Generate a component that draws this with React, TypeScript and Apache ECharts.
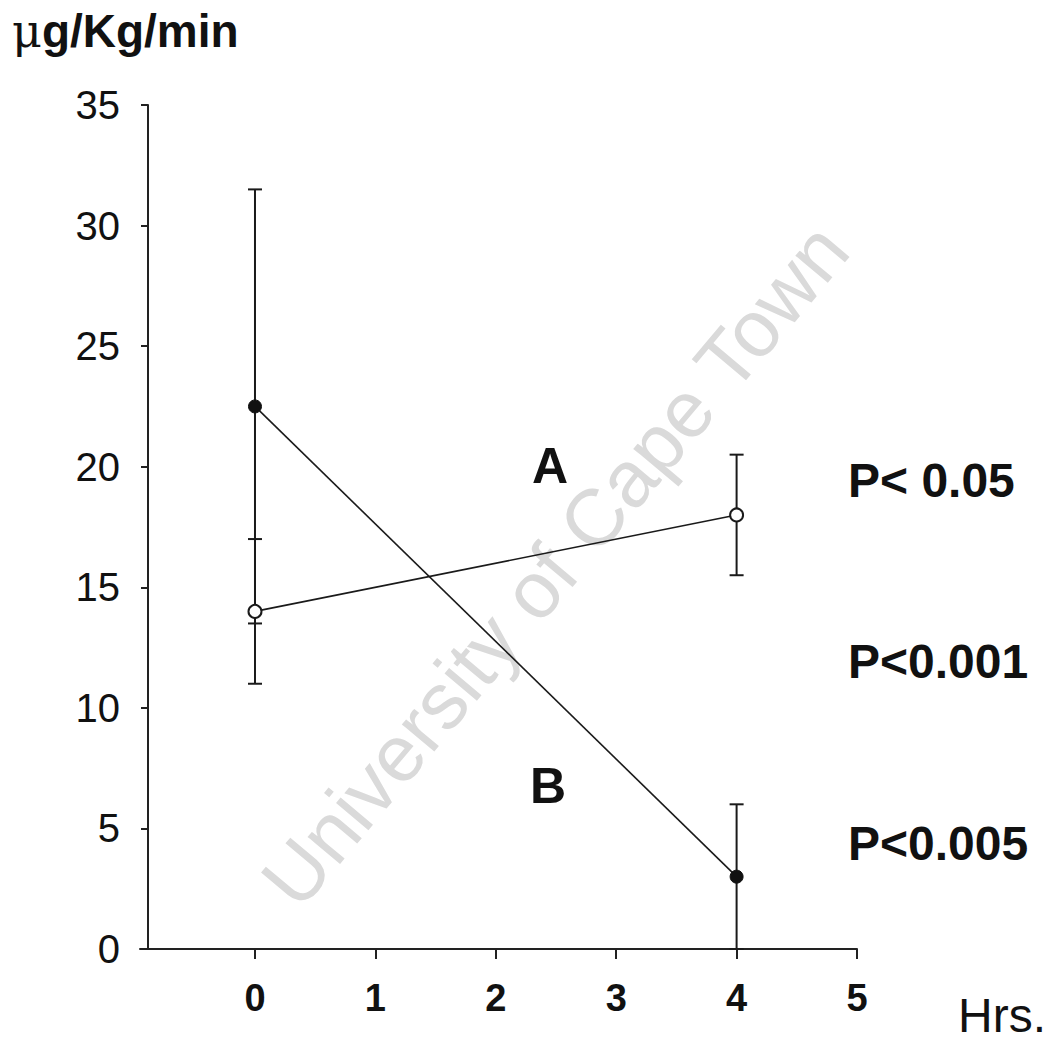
import React, { useEffect, useRef } from "react";
import * as echarts from "echarts";

// Data
const hours = [0, 4];
const xTickValues = [0, 1, 2, 3, 4, 5];
const seriesAValues = [14, 18];
const seriesALow = [11, 15.5];
const seriesAHigh = [17, 20.5];
const seriesBValues = [22.5, 3];
const seriesBLow = [13.5, 0];
const seriesBHigh = [31.5, 6];
const yMin = 0;
const yMax = 35;
const yInterval = 5;
const xMin = -0.955;
const xMax = 5;

const FONT = "'Liberation Sans', Arial, sans-serif";
const NARROW = "'Liberation Sans Narrow', 'Arial Narrow', 'Liberation Sans', sans-serif";

export default function App() {
  const ref = useRef<HTMLDivElement>(null);

  useEffect(() => {
    if (!ref.current) return;
    const chart = echarts.init(ref.current, null, { renderer: "svg" });

    const errData = [
      ...hours.map((h, i) => [h, seriesALow[i], seriesAHigh[i]]),
      ...hours.map((h, i) => [h, seriesBLow[i], seriesBHigh[i]]),
    ];

    const option: any = {
      animation: false,
      backgroundColor: "#ffffff",
      grid: { left: 140, right: 198, top: 105, bottom: 91, containLabel: false },
      xAxis: {
        type: "value",
        min: xMin,
        max: xMax,
        splitLine: { show: false },
        axisLine: { show: true, onZero: false, lineStyle: { color: "#222", width: 2 } },
        axisTick: {
          show: true,
          inside: false,
          length: 10,
          customValues: xTickValues,
          lineStyle: { color: "#222", width: 2 },
        },
        axisLabel: {
          customValues: xTickValues,
          margin: 30,
          fontSize: 38,
          fontWeight: "bold",
          fontFamily: FONT,
          color: "#111",
        },
      },
      yAxis: {
        type: "value",
        min: yMin,
        max: yMax,
        interval: yInterval,
        offset: -8,
        splitLine: { show: false },
        axisLine: { show: true, onZero: false, lineStyle: { color: "#222", width: 2 } },
        axisTick: { show: true, inside: false, length: 7, lineStyle: { color: "#222", width: 2 } },
        axisLabel: {
          margin: 28,
          fontSize: 40,
          fontFamily: NARROW,
          color: "#111",
        },
      },
      graphic: [
        {
          type: "text",
          x: 555,
          y: 565,
          rotation: (50 * Math.PI) / 180,
          z: -10,
          style: {
            text: "University of Cape Town",
            fill: "#dadada",
            font: `80px ${FONT}`,
            align: "center",
            verticalAlign: "middle",
          },
        },
        {
          type: "text",
          x: 12,
          y: 31,
          style: {
            text: "{mu|μ}{b|g/Kg/min}",
            verticalAlign: "middle",
            rich: {
              mu: { fontSize: 46, fontFamily: "'DejaVu Serif', serif", fill: "#111", fontWeight: "normal" },
              b: { fontSize: 46, fontFamily: FONT, fontWeight: "bold", fill: "#111" },
            },
          },
        },
        {
          type: "text",
          x: 550,
          y: 466,
          style: { text: "A", font: `bold 50px ${FONT}`, fill: "#111", align: "center", verticalAlign: "middle" },
        },
        {
          type: "text",
          x: 548,
          y: 786,
          style: { text: "B", font: `bold 50px ${FONT}`, fill: "#111", align: "center", verticalAlign: "middle" },
        },
        {
          type: "text",
          x: 848,
          y: 480,
          style: { text: "P< 0.05", font: `bold 48px ${FONT}`, fill: "#111", align: "left", verticalAlign: "middle" },
        },
        {
          type: "text",
          x: 848,
          y: 661,
          style: { text: "P<0.001", font: `bold 48px ${FONT}`, fill: "#111", align: "left", verticalAlign: "middle" },
        },
        {
          type: "text",
          x: 848,
          y: 843,
          style: { text: "P<0.005", font: `bold 48px ${FONT}`, fill: "#111", align: "left", verticalAlign: "middle" },
        },
        {
          type: "text",
          x: 1046,
          y: 1015,
          style: { text: "Hrs.", font: `48px ${FONT}`, fill: "#111", align: "right", verticalAlign: "middle" },
        },
      ],
      series: [
        {
          type: "custom",
          z: 2,
          data: errData,
          renderItem: (params: any, api: any) => {
            const x = api.value(0);
            const lo = api.coord([x, api.value(1)]);
            const hi = api.coord([x, api.value(2)]);
            const hw = 7;
            const style = { stroke: "#1a1a1a", lineWidth: 2 };
            return {
              type: "group",
              children: [
                { type: "line", shape: { x1: lo[0], y1: lo[1], x2: hi[0], y2: hi[1] }, style },
                { type: "line", shape: { x1: hi[0] - hw, y1: hi[1], x2: hi[0] + hw, y2: hi[1] }, style },
                { type: "line", shape: { x1: lo[0] - hw, y1: lo[1], x2: lo[0] + hw, y2: lo[1] }, style },
              ],
            };
          },
        },
        {
          type: "line",
          name: "A",
          z: 3,
          data: hours.map((h, i) => [h, seriesAValues[i]]),
          symbol: "circle",
          symbolSize: 13,
          lineStyle: { color: "#1a1a1a", width: 1.6 },
          itemStyle: { color: "#ffffff", borderColor: "#1a1a1a", borderWidth: 2 },
        },
        {
          type: "line",
          name: "B",
          z: 3,
          data: hours.map((h, i) => [h, seriesBValues[i]]),
          symbol: "circle",
          symbolSize: 13,
          lineStyle: { color: "#1a1a1a", width: 1.6 },
          itemStyle: { color: "#111111", borderColor: "#111111", borderWidth: 1 },
        },
      ],
    };

    chart.setOption(option);
    return () => chart.dispose();
  }, []);

  return (
    <div
      ref={ref}
      style={{ position: "absolute", left: 0, top: 0, width: 1055, height: 1040, background: "#fff" }}
    />
  );
}
